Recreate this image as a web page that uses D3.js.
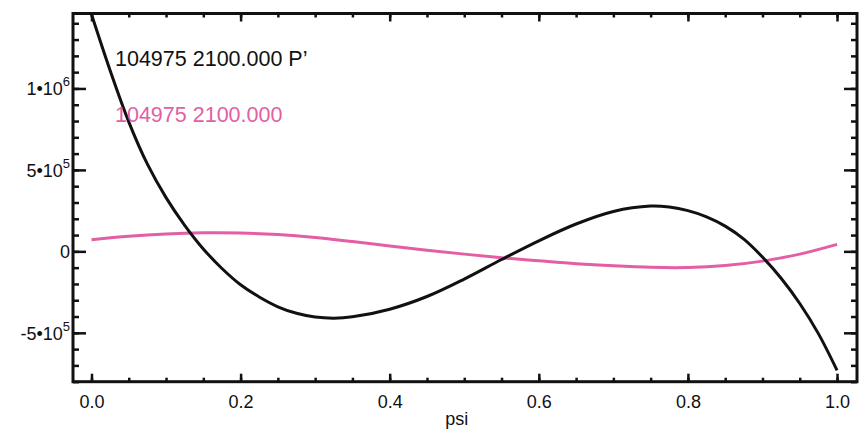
<!DOCTYPE html>
<html>
<head>
<meta charset="utf-8">
<script src="https://cdn.jsdelivr.net/npm/d3@7"></script>
<style>
  body { margin: 0; background: #fff; }
  text { font-family: "Liberation Sans", Arial, sans-serif; }
</style>
</head>
<body>
<svg id="chart"></svg>
<script>
// black curve (P')
const psiP = [0, 0.025, 0.05, 0.075, 0.1, 0.125, 0.15, 0.175, 0.2, 0.225, 0.25, 0.275, 0.3, 0.325, 0.35, 0.4, 0.45, 0.5, 0.55, 0.6, 0.65, 0.7, 0.75, 0.775, 0.8, 0.825, 0.85, 0.875, 0.9, 0.925, 0.95, 0.975, 1.0];
const valP = [1455000, 1110000, 795000, 535000, 330000, 160000, 15000, -105000, -205000, -280000, -340000, -380000, -403000, -410000, -402000, -355000, -277000, -170000, -50000, 65000, 168000, 245000, 278000, 272000, 250000, 212000, 155000, 75000, -35000, -165000, -320000, -505000, -730000];

// pink curve
const psiQ = [0, 0.05, 0.1, 0.15, 0.2, 0.25, 0.3, 0.35, 0.4, 0.45, 0.5, 0.55, 0.6, 0.65, 0.7, 0.75, 0.8, 0.85, 0.9, 0.95, 1.0];
const valQ = [72000, 93000, 107000, 114000, 113000, 103000, 85000, 60000, 33000, 7000, -17000, -39000, -58000, -76000, -89000, -98000, -99000, -87000, -60000, -17000, 43000];

const xTicks = [0, 0.2, 0.4, 0.6, 0.8, 1.0];
const yTicks = [-500000, 0, 500000, 1000000];
const yLabels = [['-5•10', '5'], ['0', ''], ['5•10', '5'], ['1•10', '6']];
const legend = ["104975 2100.000 P’", '104975 2100.000'];

const W = 867, H = 443;
const svg = d3.select('#chart').attr('width', W).attr('height', H);

const x = d3.scaleLinear().domain([-0.0248, 1.0268]).range([73, 857]);
const y = d3.scaleLinear().domain([-800000, 1460000]).range([381.7, 13.5]);

const pink = '#e35ea4';

// curves
const line = d3.line()
  .x(d => x(d[0]))
  .y(d => y(d[1]))
  .curve(d3.curveCatmullRom.alpha(0.5));

svg.append('path')
  .datum(psiQ.map((p, i) => [p, valQ[i]]))
  .attr('d', line)
  .attr('fill', 'none')
  .attr('stroke', pink)
  .attr('stroke-width', 3);

svg.append('path')
  .datum(psiP.map((p, i) => [p, valP[i]]))
  .attr('d', line)
  .attr('fill', 'none')
  .attr('stroke', '#111')
  .attr('stroke-width', 3);

// axes
const minorX = d3.range(0, 1.0001, 0.05);
const minorY = d3.range(-800000, 1400001, 100000);
const x0 = x.range()[0], x1 = x.range()[1];
const yB = y.range()[0], yT = y.range()[1];

const axBottom = svg.append('g')
  .attr('transform', `translate(0,${yB})`)
  .call(d3.axisBottom(x).tickValues(xTicks).tickSize(-8).tickFormat(d3.format('.1f')).tickPadding(14));
const axBottomMinor = svg.append('g')
  .attr('transform', `translate(0,${yB})`)
  .call(d3.axisBottom(x).tickValues(minorX).tickSize(-4).tickFormat(''));
const axTop = svg.append('g')
  .attr('transform', `translate(0,${yT})`)
  .call(d3.axisTop(x).tickValues(xTicks).tickSize(-8).tickFormat(''));
const axTopMinor = svg.append('g')
  .attr('transform', `translate(0,${yT})`)
  .call(d3.axisTop(x).tickValues(minorX).tickSize(-4).tickFormat(''));

const axLeft = svg.append('g')
  .attr('transform', `translate(${x0},0)`)
  .call(d3.axisLeft(y).tickValues(yTicks).tickSize(-13).tickFormat(''));
const axLeftMinor = svg.append('g')
  .attr('transform', `translate(${x0},0)`)
  .call(d3.axisLeft(y).tickValues(minorY).tickSize(-6).tickFormat(''));
const axRight = svg.append('g')
  .attr('transform', `translate(${x1},0)`)
  .call(d3.axisRight(y).tickValues(yTicks).tickSize(-13).tickFormat(''));
const axRightMinor = svg.append('g')
  .attr('transform', `translate(${x1},0)`)
  .call(d3.axisRight(y).tickValues(minorY).tickSize(-6).tickFormat(''));

[axBottom, axBottomMinor, axTop, axTopMinor, axLeft, axLeftMinor, axRight, axRightMinor].forEach(g => {
  g.select('.domain').remove();
  g.selectAll('line').attr('stroke', '#111').attr('stroke-width', 2.5);
});

axBottom.selectAll('text')
  .attr('fill', '#111')
  .style('font-size', '18px');

// frame
svg.append('rect')
  .attr('x', x0).attr('y', yT)
  .attr('width', x1 - x0)
  .attr('height', yB - yT)
  .attr('fill', 'none')
  .attr('stroke', '#111')
  .attr('stroke-width', 3);

// y tick labels with exponents
yTicks.forEach((t, i) => {
  const txt = svg.append('text')
    .attr('x', 70)
    .attr('y', y(t) + 7)
    .attr('text-anchor', 'end')
    .attr('fill', '#111')
    .style('font-size', '18px')
    .text(yLabels[i][0]);
  if (yLabels[i][1]) {
    txt.append('tspan')
      .attr('dy', -9)
      .style('font-size', '13px')
      .text(yLabels[i][1]);
  }
});

// x title
svg.append('text')
  .attr('x', x(0.49))
  .attr('y', 425)
  .attr('text-anchor', 'middle')
  .attr('fill', '#111')
  .style('font-size', '18px')
  .text('psi');

// labels
svg.append('text')
  .attr('x', 115).attr('y', 66)
  .attr('fill', '#111')
  .style('font-size', '21.5px')
  .text(legend[0]);

svg.append('text')
  .attr('x', 115).attr('y', 121.5)
  .attr('fill', pink)
  .style('font-size', '21.5px')
  .text(legend[1]);
</script>
</body>
</html>
